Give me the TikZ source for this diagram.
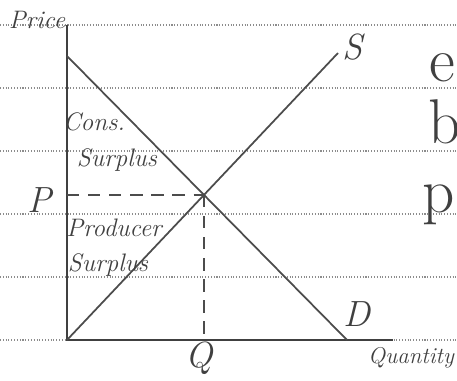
\documentclass[tikz,border=0pt]{standalone}
\usetikzlibrary{positioning}

\begin{document}
\begin{tikzpicture}[
  x=0.02cm,y=-0.02cm,
  font=\itshape,
  rule/.style={black!45,densely dotted,line width=0.6pt},
  axis/.style={black!75,line width=1.3pt},
  curve/.style={black!70,line width=1pt},
  guide/.style={black!70,dash pattern=on 7pt off 5pt,line width=0.9pt},
  lbl/.style={text=black!75,inner sep=1pt,font=\Large\itshape},
  big/.style={lbl,font=\huge\itshape},
  frag/.style={lbl,font=\fontsize{36}{40}\selectfont},
]
  \useasboundingbox (0,0) rectangle (457,381);

  % ruled paper
  \foreach \y in {25,88,151,214,277,340}
    \draw[rule] (0,\y) -- (457,\y);

  \coordinate (o) at (67,340);
  \coordinate (ytop) at (67,25);
  \coordinate (xend) at (393,340);
  \coordinate (dtop) at (67,56);
  \coordinate (dbot) at (347,340);
  \coordinate (stop) at (338,53);
  \coordinate (eq) at (intersection of dtop--dbot and o--stop);
  \coordinate (eqx) at (eq |- o);
  \coordinate (eqy) at (eq -| o);

  \draw[axis] (ytop) -- (o) -- (xend);
  \draw[curve] (dtop) -- (dbot);
  \draw[curve] (o) -- (stop);
  \draw[guide] (eqy) -- (eq);
  \draw[guide] (eq) -- (eqx);

  \node[lbl] (price) at (37,20) {Price};
  \node[lbl,anchor=east,font=\fontsize{13}{15}\selectfont\itshape] (qty) at (456,358) {Quantity};
  \node[big] (slbl) at (353,47) {S};
  \node[big] (dlbl) at (357,314) {D};
  \node[big] (qlbl) at (199,358) {Q};
  \node[big] (plbl) at (40,200) {P};

  \node[lbl] (cons) at (94,122) {Cons.};
  \node[lbl] (csur) at (117,160) {Surplus};
  \node[lbl] (prod) at (114,228) {Producer};
  \node[lbl] (psur) at (108,265) {Surplus};

  % words running off the page
  \node[frag,anchor=east] (wa) at (457,68) {e};
  \node[frag,anchor=west] (wb) at (426,122) {be};
  \node[frag,anchor=east] (wc) at (457,205) {p};
\end{tikzpicture}
\end{document}
